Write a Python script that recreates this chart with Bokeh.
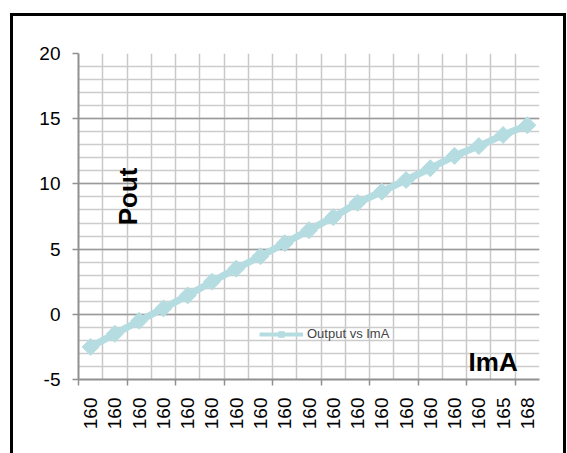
import math
from bokeh.plotting import figure
from bokeh.models import FixedTicker, Label, Legend, LegendItem, ColumnDataSource
from bokeh.embed import file_html
from bokeh.resources import INLINE

# ---- data ----
categories = ["160"] * 17 + ["165", "168"]
pout = [-2.5, -1.5, -0.5, 0.45, 1.45, 2.5, 3.5, 4.45, 5.45, 6.45,
        7.45, 8.55, 9.4, 10.3, 11.2, 12.15, 12.9, 13.75, 14.5]
y_ticks = [-5, 0, 5, 10, 15, 20]
y_tick_labels = ["-5", "0", "5", "10", "15", "20"]
series_name = "Output vs ImA"
x_title = "ImA"
y_title = "Pout"

n = len(categories)
xs = list(range(n))
src = ColumnDataSource(dict(x=xs, y=pout))

COL = "#b5dde1"
FONT = "Liberation Sans"

p = figure(width=556, height=440, x_range=(-0.5, n - 0.5), y_range=(-5, 20),
           output_backend="svg", toolbar_location=None,
           min_border_left=65, min_border_right=30, min_border_top=37, min_border_bottom=77)
p.styles = {"border-left": "3px solid black", "border-top": "3px solid black",
            "border-right": "3px solid black", "margin-left": "10px", "margin-top": "13px"}
p.background_fill_color = "white"
p.border_fill_color = "white"
p.outline_line_color = None

# grids
p.xgrid.ticker = FixedTicker(ticks=[i - 0.5 for i in range(n + 1)])
p.xgrid.grid_line_color = "#c8c8c8"
p.xgrid.grid_line_width = 1.5
p.ygrid.ticker = FixedTicker(ticks=y_ticks, minor_ticks=list(range(-5, 21)))
p.ygrid.grid_line_color = "#9a9a9a"
p.ygrid.grid_line_width = 1.5
p.ygrid.minor_grid_line_color = "#cccccc"
p.ygrid.minor_grid_line_width = 1.5

# y axis
p.yaxis.ticker = FixedTicker(ticks=y_ticks)
p.yaxis.major_label_overrides = {t: s for t, s in zip(y_ticks, y_tick_labels)}
p.yaxis.axis_line_color = "#909090"
p.yaxis.axis_line_width = 2
p.yaxis.major_tick_line_color = "#909090"
p.yaxis.major_tick_line_width = 1.5
p.yaxis.major_tick_out = 6
p.yaxis.major_tick_in = 0
p.yaxis.minor_tick_out = 0
p.yaxis.minor_tick_in = 0
p.yaxis.major_label_text_font = FONT
p.yaxis.major_label_text_font_size = "19px"
p.yaxis.major_label_text_color = "black"
p.yaxis.major_label_standoff = 12

# x axis
p.xaxis.ticker = FixedTicker(ticks=xs, minor_ticks=[i - 0.5 for i in range(0, n, 2)])
p.xaxis.major_label_overrides = {i: c for i, c in zip(xs, categories)}
p.xaxis.major_label_orientation = math.pi / 2
p.xaxis.axis_line_color = "#909090"
p.xaxis.axis_line_width = 2
p.xaxis.major_tick_out = 0
p.xaxis.major_tick_in = 0
p.xaxis.minor_tick_out = 6
p.xaxis.minor_tick_in = 0
p.xaxis.minor_tick_line_color = "#909090"
p.xaxis.minor_tick_line_width = 1.5
p.xaxis.major_label_text_font = FONT
p.xaxis.major_label_text_font_size = "19px"
p.xaxis.major_label_text_color = "black"
p.xaxis.major_label_standoff = 12

# legend swatch renderers: same series drawn thinner/smaller underneath (hidden by main marks)
lg_ln = p.line("x", "y", source=src, line_color=COL, line_width=4)
lg_mk = p.scatter("x", "y", source=src, marker="square", size=6, angle=math.pi / 4,
                  fill_color=COL, line_color=COL)

# main series
p.line("x", "y", source=src, line_color=COL, line_width=7)
p.scatter("x", "y", source=src, marker="square", size=12, angle=math.pi / 4,
          fill_color=COL, line_color=COL)

legend = Legend(items=[LegendItem(label=series_name, renderers=[lg_ln, lg_mk])],
                location=(181, 38), background_fill_alpha=0, border_line_color=None,
                label_text_font=FONT, label_text_font_size="13px",
                glyph_width=44, glyph_height=14, padding=0, margin=0, label_standoff=4,
                label_height=14)
p.add_layout(legend, "center")

p.add_layout(Label(x=1.56, y=9.04, text=y_title, angle=math.pi / 2, text_align="center",
                   text_baseline="middle", text_font=FONT, text_font_size="26px",
                   text_font_style="bold", text_color="black"))
p.add_layout(Label(x=16.59, y=-3.69, text=x_title, text_align="center",
                   text_baseline="middle", text_font=FONT, text_font_size="26px",
                   text_font_style="bold", text_color="black"))

open("out.html", "w").write(file_html(p, INLINE))
